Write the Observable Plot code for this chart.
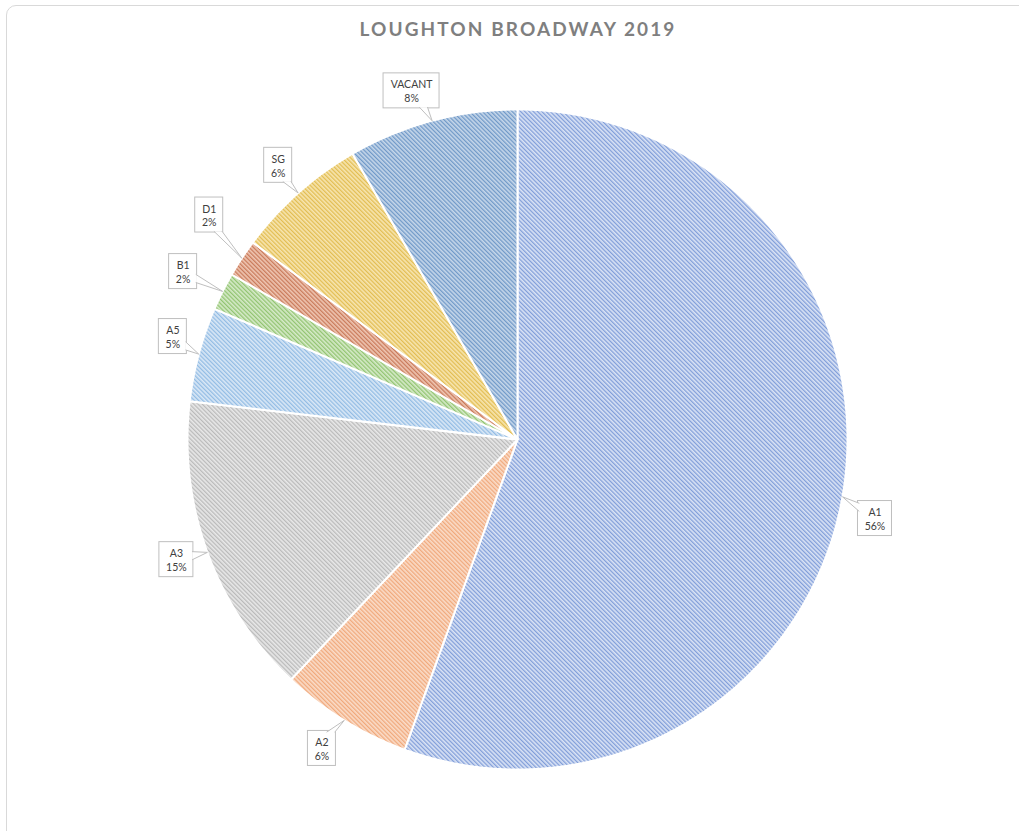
<!DOCTYPE html>
<html><head><meta charset="utf-8">
<script src="https://cdn.jsdelivr.net/npm/d3@7"></script>
<script src="https://cdn.jsdelivr.net/npm/@observablehq/plot@0.6"></script>
<style>
html,body{margin:0;padding:0;background:#fff;overflow:hidden;width:1019px;height:831px;}
#frame{position:absolute;left:6px;top:5px;width:1040px;height:860px;border:1px solid #d9d9d9;border-radius:10px;box-sizing:border-box;}
#title{position:absolute;left:0;top:17px;width:1036px;text-align:center;font:bold 19px Lato, sans-serif;letter-spacing:2.1px;color:#7f7f7f;}
#chart{position:absolute;left:0;top:50px;}
</style></head><body>
<div id="frame"></div>
<div id="title">LOUGHTON BROADWAY 2019</div>
<div id="chart"></div>
<script>
// ---- data ----
const categories = ["A1", "A2", "A3", "A5", "B1", "D1", "SG", "VACANT"];
const units = [60, 7, 16, 5, 2, 2, 7, 9];

// ---- styles (hatch line colour / background tint) ----
const hatchLine = {A1:"#819ed9", A2:"#f0a97c", A3:"#bababa", A5:"#92bce4", B1:"#92c471", D1:"#c97a5a", SG:"#e2bd52", VACANT:"#7099c8"};
const hatchBg   = {A1:"#dae3f5", A2:"#fadcc8", A3:"#e8e8e8", A5:"#dae8f6", B1:"#d6eac9", D1:"#efc6b3", SG:"#f7e5b0", VACANT:"#c6d7ea"};

// ---- layout ----
const W = 1019, H = 781, TOP = 50;
const CX = 517, CYp = 439, R = 330;           // pie centre (page coords) and radius
const labelNudge = {A1:[0,16], A2:[-5,0], A3:[0,-4], A5:[6,-9], B1:[-10,-5], D1:[-5,-25], SG:[2,-3], VACANT:[-12,2]};
const FONT = "Lato, sans-serif";

const data = categories.map((c, i) => ({cat: c, value: units[i]}));
const total = d3.sum(units);
const arcs = d3.pie().sort(null).value(d => d.value)(data);

// slice outlines in unit-circle coordinates (y up)
const slicePts = [];
arcs.forEach(a => {
  const key = a.data.cat;
  slicePts.push({key, x: 0, y: 0});
  const n = Math.max(2, Math.ceil((a.endAngle - a.startAngle) / (Math.PI / 360)));
  for (let i = 0; i <= n; i++) {
    const t = a.startAngle + (a.endAngle - a.startAngle) * i / n;
    slicePts.push({key, x: Math.sin(t), y: Math.cos(t)});
  }
});

// callouts
const ctx = document.createElement("canvas").getContext("2d");
ctx.font = "10.5px " + FONT;
const toU = (px, py) => ({x: (px - CX) / R, y: (CYp - py) / R});
const boxes = [], tails = [], texts = [];
arcs.forEach(a => {
  const c = a.data.cat;
  const m = (a.startAngle + a.endAngle) / 2;
  const pct = Math.round(a.data.value / total * 100) + "%";
  const tx = CX + R * Math.sin(m), ty = CYp - R * Math.cos(m);
  const nd = labelNudge[c] || [0, 0];
  const bx = CX + 1.1 * R * Math.sin(m) + nd[0], by = CYp - 1.1 * R * Math.cos(m) + nd[1];
  const tw = Math.max(ctx.measureText(c).width, ctx.measureText(pct).width);
  const hw = Math.round(tw / 2 + 7), hh = 17.5;
  const p1 = toU(bx - hw, by - hh), p2 = toU(bx + hw, by + hh);
  boxes.push({cat: c, x1: p1.x, x2: p2.x, y1: p2.y, y2: p1.y});
  const ctr = toU(bx, by);
  texts.push({cat: c, pct, x: ctr.x, y: ctr.y});
  // tail
  const dx = tx - bx, dy = ty - by;
  let b1, b2;
  if (Math.abs(dx) / hw >= Math.abs(dy) / hh) {
    const ex = bx + Math.sign(dx) * (hw - 1);
    let yy = by + dy * hw / Math.abs(dx);
    yy = Math.max(by - hh + 5, Math.min(by + hh - 5, yy));
    b1 = [ex, yy - 4]; b2 = [ex, yy + 4];
  } else {
    const ey = by + Math.sign(dy) * (hh - 1);
    let xx = bx + dx * hh / Math.abs(dy);
    xx = Math.max(bx - hw + 5, Math.min(bx + hw - 5, xx));
    b1 = [xx - 4, ey]; b2 = [xx + 4, ey];
  }
  [b1, [tx, ty], b2].forEach(p => { const u = toU(p[0], p[1]); tails.push({cat: c, x: u.x, y: u.y}); });
});

const svg = Plot.plot({
  width: W, height: H,
  margin: 0,
  x: {type: "linear", domain: [-1, 1], range: [CX - R, CX + R], axis: null},
  y: {type: "linear", domain: [-1, 1], range: [CYp - TOP + R, CYp - TOP - R], axis: null},
  color: {type: "identity"},
  marks: [
    Plot.line(slicePts, {x: "x", y: "y", z: "key", fill: d => "url(#pat-" + categories.indexOf(d.key) + ")",
      stroke: "white", strokeWidth: 2, strokeLinejoin: "round", curve: "linear-closed"}),
    Plot.rect(boxes, {x1: "x1", x2: "x2", y1: "y1", y2: "y2", fill: "white", stroke: "#bfbfbf", strokeWidth: 1}),
    Plot.line(tails, {x: "x", y: "y", z: "cat", fill: "white", stroke: "#bfbfbf", strokeWidth: 1}),
    Plot.text(texts, {x: "x", y: "y", text: d => d.cat + "\n" + d.pct, fontSize: 10.5, lineHeight: 1.3,
      fill: "#404040", fontFamily: FONT})
  ]
});

const defs = d3.select(svg).insert("defs", ":first-child");
categories.forEach((c, i) => {
  const p = defs.append("pattern").attr("id", "pat-" + i).attr("patternUnits", "userSpaceOnUse")
    .attr("width", 3).attr("height", 3).attr("patternTransform", "rotate(-45)");
  p.append("rect").attr("width", 3).attr("height", 3).attr("fill", hatchBg[c]);
  p.append("rect").attr("width", 1.3).attr("height", 3).attr("fill", hatchLine[c]);
});

document.getElementById("chart").appendChild(svg);
</script>
</body></html>
